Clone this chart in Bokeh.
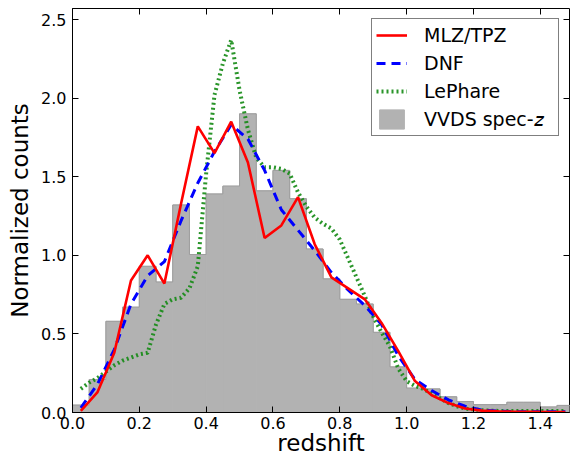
from bokeh.plotting import figure
from bokeh.models import (Range1d, FixedTicker, NumeralTickFormatter, LinearAxis,
                          Legend, LegendItem, ColumnDataSource)
from bokeh.embed import file_html
from bokeh.resources import INLINE

# ---------------- data ----------------
bin_lo = [0.00, 0.05, 0.10, 0.15, 0.20, 0.25, 0.30, 0.35, 0.40, 0.45,
          0.50, 0.55, 0.60, 0.65, 0.70, 0.75, 0.80, 0.85, 0.90, 0.95,
          1.00, 1.05, 1.10, 1.15, 1.20, 1.25, 1.30, 1.35, 1.40, 1.45]
bin_hi = [0.05, 0.10, 0.15, 0.20, 0.25, 0.30, 0.35, 0.40, 0.45, 0.50,
          0.55, 0.60, 0.65, 0.70, 0.75, 0.80, 0.85, 0.90, 0.95, 1.00,
          1.05, 1.10, 1.15, 1.20, 1.25, 1.30, 1.35, 1.40, 1.45, 1.50]
vvds = [0.047, 0.21, 0.58, 0.67, 0.93, 0.83, 1.32, 1.005, 1.39, 1.44,
        1.90, 1.41, 1.54, 1.36, 1.04, 0.85, 0.72, 0.69, 0.51, 0.29,
        0.155, 0.15, 0.10, 0.07, 0.05, 0.05, 0.065, 0.065, 0.035, 0.045]

z_mid = [0.025, 0.075, 0.125, 0.175, 0.225, 0.275, 0.325, 0.375, 0.425, 0.475,
         0.525, 0.575, 0.625, 0.675, 0.725, 0.775, 0.825, 0.875, 0.925, 0.975,
         1.025, 1.075, 1.125, 1.175, 1.225, 1.275, 1.325, 1.375, 1.425, 1.475]
mlz_tpz = [0.01, 0.13, 0.38, 0.84, 1.00, 0.82, 1.33, 1.82, 1.65, 1.85,
           1.59, 1.11, 1.19, 1.37, 1.07, 0.86, 0.79, 0.72, 0.57, 0.39,
           0.20, 0.11, 0.06, 0.025, 0.012, 0.008, 0.005, 0.004, 0.003, 0.003]
dnf = [0.03, 0.18, 0.40, 0.69, 0.87, 0.96, 1.22, 1.46, 1.66, 1.83,
       1.74, 1.54, 1.29, 1.16, 1.03, 0.89, 0.78, 0.68, 0.56, 0.36,
       0.21, 0.14, 0.08, 0.04, 0.016, 0.008, 0.005, 0.004, 0.004, 0.004]

z_lephare = [0.025, 0.050, 0.075, 0.100, 0.125, 0.150, 0.175, 0.200, 0.225, 0.250,
             0.275, 0.300, 0.325, 0.350, 0.375, 0.400, 0.425, 0.450, 0.475, 0.500,
             0.525, 0.550, 0.575, 0.600, 0.625, 0.650, 0.675, 0.700, 0.725, 0.750,
             0.775, 0.800, 0.825, 0.850, 0.875, 0.900, 0.925, 0.950, 0.975, 1.000,
             1.025, 1.050, 1.075, 1.100, 1.125, 1.150, 1.175, 1.200, 1.225, 1.250,
             1.275, 1.300, 1.325, 1.350, 1.375, 1.400, 1.425, 1.450, 1.475]
lephare = [0.15, 0.19, 0.22, 0.26, 0.30, 0.33, 0.35, 0.37, 0.38, 0.56,
           0.69, 0.72, 0.73, 0.79, 0.93, 1.52, 2.02, 2.22, 2.37, 2.05,
           1.80, 1.62, 1.56, 1.56, 1.55, 1.52, 1.40, 1.31, 1.24, 1.20,
           1.17, 1.10, 0.98, 0.86, 0.74, 0.61, 0.51, 0.42, 0.28, 0.20,
           0.17, 0.15, 0.12, 0.09, 0.06, 0.04, 0.025, 0.02, 0.015, 0.012,
           0.01, 0.01, 0.01, 0.01, 0.01, 0.01, 0.01, 0.01, 0.01]

x_ticks = [0.0, 0.2, 0.4, 0.6, 0.8, 1.0, 1.2, 1.4]
y_ticks = [0.0, 0.5, 1.0, 1.5, 2.0, 2.5]

labels = ["MLZ/TPZ", "DNF", "LePhare", "VVDS spec-\U0001D467"]

# ---------------- figure ----------------
FONT = "DejaVu Sans"
p = figure(width=572, height=458, output_backend="svg", toolbar_location=None,
           x_range=Range1d(0, 1.4875), y_range=Range1d(0, 2.57),
           min_border_left=72, min_border_right=3, min_border_top=8, min_border_bottom=20,
           background_fill_color="white", border_fill_color="white")
p.xgrid.visible = False
p.ygrid.visible = False
p.outline_line_color = "black"
p.outline_line_width = 1
p.outline_line_alpha = 1

hist_src = ColumnDataSource(dict(left=bin_lo, right=bin_hi, top=vvds, bottom=[0] * len(vvds)))
r_hist = p.quad(left="left", right="right", top="top", bottom="bottom", source=hist_src,
                fill_color="#b2b2b2", line_color="#b2b2b2", line_width=1)
p.step(x=bin_lo + [bin_hi[-1]], y=vvds + [vvds[-1]], mode="after",
       line_color="#9e9e9e", line_width=1)

r_led = p.line(z_lephare, lephare, line_color="#138a13", line_width=4, line_dash="2 3",
               line_alpha=0.9)
r_dnf = p.line(z_mid, dnf, line_color="#0000ff", line_width=3, line_dash="9 6")
r_mlz = p.line(z_mid, mlz_tpz, line_color="#ff0000", line_width=2.6)

# axes
for ax in (p.xaxis[0], p.yaxis[0]):
    ax.major_tick_in = 6
    ax.major_tick_out = 0
    ax.minor_tick_line_color = None
    ax.axis_line_color = "black"
    ax.major_label_text_font = FONT
    ax.major_label_text_font_size = "16px"
    ax.major_label_text_color = "black"
    ax.axis_label_text_font = FONT
    ax.axis_label_text_font_size = "23px"
    ax.axis_label_text_font_style = "normal"
    ax.axis_label_text_color = "black"

p.xaxis[0].major_label_standoff = 4
p.xaxis[0].axis_label_standoff = -2
p.yaxis[0].major_label_standoff = 6
p.yaxis[0].axis_label_standoff = 5

p.xaxis[0].ticker = FixedTicker(ticks=x_ticks)
p.yaxis[0].ticker = FixedTicker(ticks=y_ticks)
p.xaxis[0].formatter = NumeralTickFormatter(format="0.0")
p.yaxis[0].formatter = NumeralTickFormatter(format="0.0")
p.xaxis[0].axis_label = "redshift"
p.yaxis[0].axis_label = "Normalized counts"

for loc, ticks in (("above", x_ticks), ("right", y_ticks)):
    ax = LinearAxis(ticker=FixedTicker(ticks=ticks), major_tick_in=6, major_tick_out=0,
                    minor_tick_line_color=None, axis_line_color=None,
                    major_label_text_font_size="1px", major_label_text_color=None,
                    major_label_standoff=0)
    p.add_layout(ax, loc)

legend = Legend(items=[LegendItem(label=labels[0], renderers=[r_mlz]),
                       LegendItem(label=labels[1], renderers=[r_dnf]),
                       LegendItem(label=labels[2], renderers=[r_led]),
                       LegendItem(label=labels[3], renderers=[r_hist])],
                location="top_right", margin=10, padding=4, spacing=4,
                glyph_width=31, glyph_height=24, label_height=24, label_width=130,
                label_standoff=17, label_text_font=FONT, label_text_font_size="19px",
                label_text_color="black", border_line_color="black", border_line_width=1,
                background_fill_color="white", background_fill_alpha=1)
p.add_layout(legend)

open("out.html", "w").write(file_html(p, INLINE))
